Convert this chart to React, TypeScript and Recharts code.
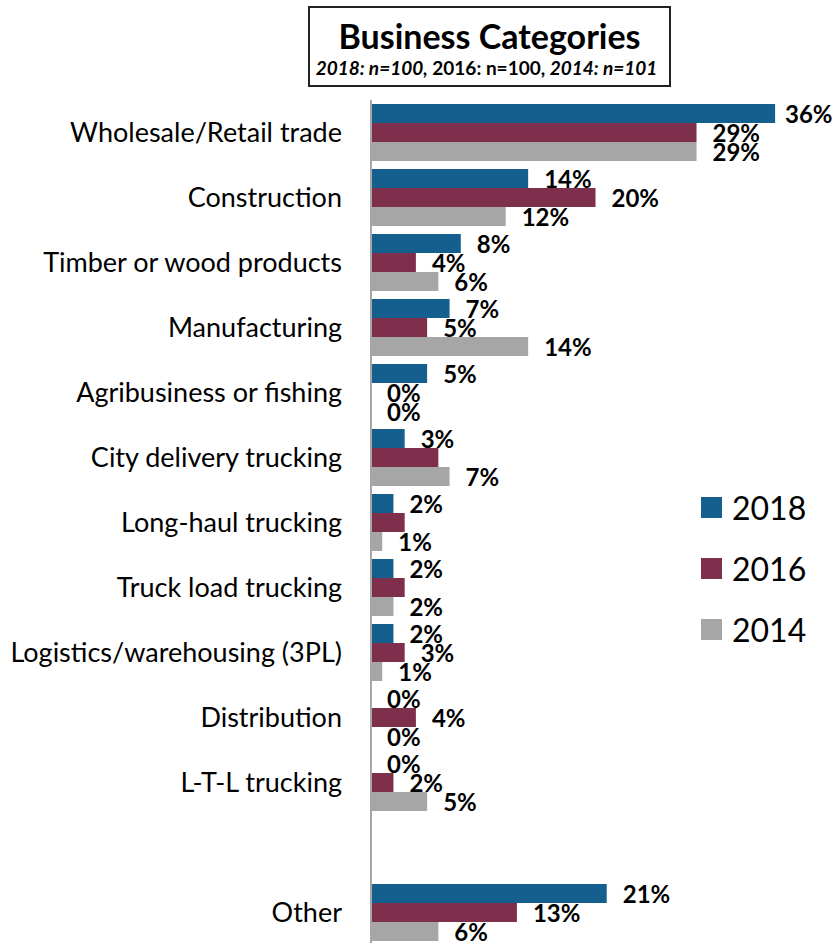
import React from "react";
import { BarChart, Bar, XAxis, YAxis, LabelList } from "recharts";

const categories = [
  "Wholesale/Retail trade",
  "Construction",
  "Timber or wood products",
  "Manufacturing",
  "Agribusiness or fishing",
  "City delivery trucking",
  "Long-haul trucking",
  "Truck load trucking",
  "Logistics/warehousing (3PL)",
  "Distribution",
  "L-T-L trucking",
  " ",
  "Other",
];
const values2018 = [36, 14, 8, 7, 5, 3, 2, 2, 2, 0, 0, null, 21];
const values2016 = [29, 20, 4, 5, 0, 6, 3, 3, 3, 4, 2, null, 13];
const values2014 = [29, 12, 6, 14, 0, 7, 1, 2, 1, 0, 5, null, 6];
// whether each value's data label is shown in the original
const shown2018 = [true, true, true, true, true, true, true, true, true, true, true, true, true];
const shown2016 = [true, true, true, true, true, false, false, false, true, true, true, true, true];
const shown2014 = [true, true, true, true, true, true, true, true, true, true, true, true, true];

const seriesNames = ["2018", "2016", "2014"];
const colors = ["#155F8E", "#7D2F4C", "#A6A6A6"];

const data = categories.map((c, i) => ({
  name: c,
  y2018: values2018[i],
  y2016: values2016[i],
  y2014: values2014[i],
}));

const FONT = "Lato, 'Open Sans', sans-serif";
const CHART_W = 833;

const makeLabel = (shown: boolean[]) => (props: any) => {
  const { x, y, width, height, value, index } = props;
  if (value == null || !shown[index]) return null;
  const lx = Math.min(x + Math.max(width, 0) + 16, CHART_W - 48);
  return (
    <text
      x={lx}
      y={y + height / 2}
      dominantBaseline="central"
      fontFamily={FONT}
      fontWeight="bold"
      fontSize={24}
      fill="#000"
    >
      {value}%
    </text>
  );
};

export default function App() {
  return (
    <div
      style={{
        position: "absolute",
        left: 0,
        top: 0,
        width: 833,
        height: 943,
        overflow: "hidden",
        background: "#fff",
        fontFamily: FONT,
      }}
    >
      <div
        style={{
          position: "absolute",
          left: 308,
          top: 6,
          width: 363,
          height: 81,
          border: "2px solid #222",
          boxSizing: "border-box",
          textAlign: "center",
          background: "#fff",
          zIndex: 2,
        }}
      >
        <div style={{ fontSize: 34, fontWeight: "bold", lineHeight: "40px", marginTop: 8 }}>
          Business Categories
        </div>
        <div style={{ fontSize: 19, fontWeight: "bold", lineHeight: "24px", whiteSpace: "nowrap", marginLeft: -6 }}>
          <i>2018: n=100,</i> 2016: n=100, <i>2014: n=101</i>
        </div>
      </div>
      <div style={{ position: "absolute", left: 701, top: 477, width: 130, zIndex: 2 }}>
        {seriesNames.map((n, i) => (
          <div key={n} style={{ display: "flex", alignItems: "center", height: 61 }}>
            <div style={{ width: 21, height: 21, background: colors[i], marginRight: 10 }} />
            <span style={{ fontSize: 32, color: "#000" }}>{n}</span>
          </div>
        ))}
      </div>
      <BarChart
        width={CHART_W}
        height={945}
        data={data}
        layout="vertical"
        margin={{ top: 100, right: 13, bottom: 0, left: 0 }}
        barGap={0}
        barSize={19}
      >
        <XAxis type="number" domain={[0, 40]} hide />
        <YAxis
          type="category"
          dataKey="name"
          width={371}
          tickLine={false}
          tickSize={0}
          tickMargin={29}
          axisLine={{ stroke: "#A6A6A6", strokeWidth: 2 }}
          tick={{ fill: "#000", fontSize: 27, fontFamily: FONT }}
          interval={0}
        />
        <Bar dataKey="y2018" name="2018" fill={colors[0]} minPointSize={0.01} isAnimationActive={false}>
          <LabelList dataKey="y2018" content={makeLabel(shown2018)} />
        </Bar>
        <Bar dataKey="y2016" name="2016" fill={colors[1]} minPointSize={0.01} isAnimationActive={false}>
          <LabelList dataKey="y2016" content={makeLabel(shown2016)} />
        </Bar>
        <Bar dataKey="y2014" name="2014" fill={colors[2]} minPointSize={0.01} isAnimationActive={false}>
          <LabelList dataKey="y2014" content={makeLabel(shown2014)} />
        </Bar>
      </BarChart>
    </div>
  );
}
